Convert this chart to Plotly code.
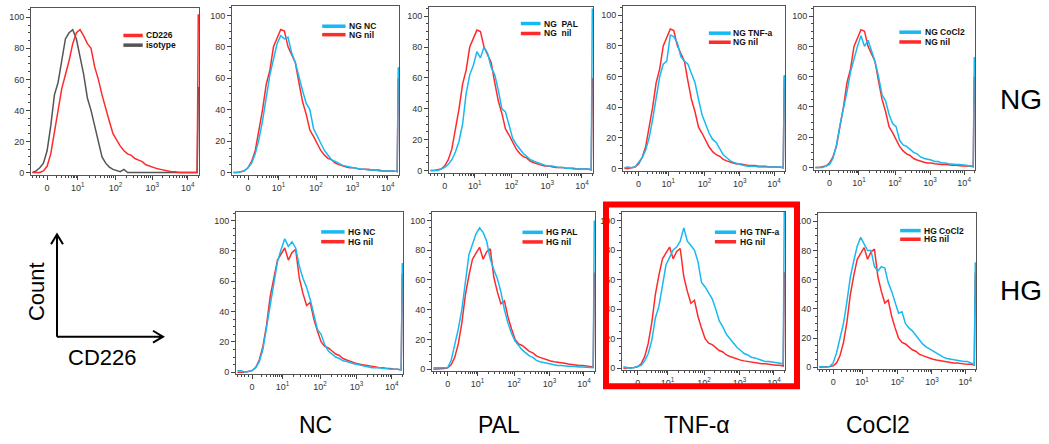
import math
import plotly.graph_objects as go

W, H = 1049, 444

# ---------------- data (display units of the biexponential CD226 axis) ----------------
U = [-0.4, -0.3, -0.2, -0.1, 0.0, 0.1, 0.2, 0.3, 0.4, 0.5,
     0.6, 0.7, 0.8, 0.9, 1.0, 1.1, 1.2, 1.3, 1.4, 1.5,
     1.6, 1.7, 1.8, 1.9, 2.0, 2.1, 2.2, 2.3, 2.4, 2.5,
     2.6, 2.7, 2.8, 2.9, 3.0, 3.1, 3.2, 3.3, 3.4, 3.5,
     3.6, 3.7, 3.8, 3.9, 4.0, 4.1, 4.13]

TICK_POS = [0, 0.84, 1.87, 2.87, 3.84]
TICK_TEXT = ["0", "10<sup>1</sup>", "10<sup>2</sup>", "10<sup>3</sup>", "10<sup>4</sup>"]
Y_TICKS = [0, 20, 40, 60, 80, 100]

CD226 = [0, 0, 0, 1, 4, 12, 27, 41, 54, 63,
         72, 83, 90, 92, 88, 83, 80, 68, 60, 50,
         41, 33, 25, 21, 17, 14, 12, 11, 9, 8,
         7, 5, 4, 3, 2.5, 2, 1.5, 1, 0.5, 0.5,
         0, 0, 0, 0, 0, 0, 102]
ISOTYPE = [0, 1, 3, 6, 14, 30, 50, 58, 72, 86,
           90, 92, 86, 75, 63, 48, 40, 30, 20, 10,
           6, 3.5, 2, 1, 0.5, 2, 0, 0, 0, 0,
           0, 0, 0, 0, 0, 0, 0, 0, 0, 0,
           0, 0, 0, 0, 0, 0, 55]

NG_NIL = [0, 0, 0.5, 1, 3, 7, 14, 26, 40, 56,
          65, 80, 85, 91, 90, 80, 75, 70, 57, 45,
          37, 27, 23, 18, 14, 11, 9, 8, 6, 5,
          4, 3.5, 3, 3, 2.5, 2, 2, 2, 1.5, 1.5,
          1.5, 1, 1, 1, 1, 0.5, 60]
NG_NC = [0, 0, 0.5, 1, 3, 6, 12, 21, 33, 48,
         62, 72, 82, 87, 85, 86, 76, 70, 60, 52,
         44, 40, 28, 23, 19, 14, 11, 8, 7, 5.5,
         4.5, 4, 3.5, 3, 2.5, 2, 2, 1.5, 1.5, 1.5,
         1, 1, 1, 1, 1, 0.5, 67]
NG_PAL = [0, 0, 0, 1, 2, 4, 7, 12, 19, 30,
          50, 62, 68, 77, 73, 80, 76, 67, 62, 52,
          40, 38, 30, 21, 17, 14, 11, 9, 7, 6,
          5, 4, 3.5, 3, 3, 2.5, 2, 2, 1.5, 1.5,
          1, 1, 1, 1, 1, 0.5, 105]
NG_TNF = [0.5, 1, 0.5, 1, 4, 7, 12, 20, 32, 45,
          60, 68, 70, 87, 86, 82, 73, 70, 68, 62,
          56, 45, 35, 29, 23, 19, 17, 13, 9, 7,
          5, 4, 3, 2.5, 2, 1.5, 1.5, 1.5, 1, 1,
          1, 1, 1, 1, 1, 0.5, 61]
NG_COCL2 = [0, 0, 0, 1, 2, 6, 15, 28, 38, 50,
            63, 72, 80, 87, 80, 84, 77, 70, 60, 48,
            44, 35, 29, 27, 18, 15, 14, 12, 10, 9,
            7, 6, 5.5, 5, 4, 4, 3, 3, 2.5, 2,
            2, 2, 1.5, 1.5, 1, 1, 73]

HG_NIL = [0, 0, 0, 0.5, 1, 3, 8, 17, 31, 50,
          63, 74, 78, 82, 74, 79, 81, 62, 52, 44,
          46, 35, 27, 20, 17, 16, 14, 12, 11, 9,
          8, 7, 6, 5.5, 5, 4.5, 4, 4, 3.5, 3,
          3, 2.5, 2.5, 2, 2, 1.5, 65]
HG_NC = [1, 1, 0, 0.5, 1, 3, 7, 15, 29, 45,
         59, 73, 81, 88, 83, 86, 82, 70, 62, 56,
         48, 37, 28, 25, 18, 14, 12, 10, 9, 7.5,
         7, 6, 5.5, 5, 4.5, 4, 3.5, 3, 3, 3,
         2.5, 2.5, 2, 2, 2, 1.5, 72]
HG_PAL = [1, 1, 0.5, 0.5, 1, 6, 16, 27, 40, 58,
          77, 84, 91, 95, 92, 86, 74, 67, 61, 52,
          40, 31, 24, 19, 16, 13, 11, 9, 8, 6,
          5, 4.5, 4, 3.5, 3, 2.5, 2.5, 2, 2, 2,
          1.5, 1.5, 1.5, 1.5, 1, 1, 100]
HG_TNF = [1, 0.5, 0, 0.5, 1, 2, 5, 10, 19, 34,
          42, 57, 70, 75, 80, 82, 86, 95, 86, 83,
          80, 72, 58, 55, 51, 47, 40, 32, 28, 23,
          20, 17, 14, 12, 10, 9, 7.5, 7, 6, 5,
          4.5, 4.5, 4, 4, 3.5, 3, 110]
HG_COCL2 = [0.5, 0, 0, 0.5, 3, 10, 20, 30, 45, 62,
            73, 83, 89, 84, 80, 80, 69, 66, 69, 68,
            58, 52, 44, 37, 38, 30, 27, 25, 22, 19,
            16, 14, 12.5, 11, 9.5, 8, 7, 6, 5.5, 5,
            5, 4.5, 4, 4, 3, 2, 72]

COL_LABELS = ["NC", "PAL", "TNF-α", "CoCl2"]
ROW_LABELS = ["NG", "HG"]

# ---------------- styling ----------------
RED = "#ff2a2a"
BLUE = "#16b9f2"
GREY = "#555555"
FONT = "Liberation Sans, Arial, sans-serif"
NARROW = "Liberation Sans Narrow, Arial Narrow, Liberation Sans, Arial, sans-serif"

# panel: (curves [(legend text, values, color)], box px (x0, y0, x1, y1), legend (lx0, lx1, y1, y2, tx))
panels = [
    ([("CD226", CD226, RED), ("isotype", ISOTYPE, GREY)], (31, 8, 199, 176), (0.55, 0.665, 0.835, 0.777, 0.675)),
    ([("NG NC", NG_NC, BLUE), ("NG nil", NG_NIL, RED)], (232, 6, 399, 176), (0.54, 0.68, 0.88, 0.83, 0.69)),
    ([("NG&nbsp; PAL", NG_PAL, BLUE), ("NG&nbsp; nil", NG_NIL, RED)], (429, 7, 593, 174), (0.56, 0.68, 0.90, 0.84, 0.69)),
    ([("NG TNF-a", NG_TNF, BLUE), ("NG nil", NG_NIL, RED)], (623, 6, 785, 172), (0.53, 0.665, 0.835, 0.78, 0.668)),
    ([("NG CoCl2", NG_COCL2, BLUE), ("NG nil", NG_NIL, RED)], (814, 7, 975, 171), (0.53, 0.665, 0.845, 0.785, 0.675)),
    ([("HG NC", HG_NC, BLUE), ("HG nil", HG_NIL, RED)], (236, 213, 403, 377), (0.51, 0.65, 0.875, 0.815, 0.66)),
    ([("HG PAL", HG_PAL, BLUE), ("HG nil", HG_NIL, RED)], (432, 213, 595, 374), (0.555, 0.68, 0.87, 0.81, 0.685)),
    ([("HG TNF-a", HG_TNF, BLUE), ("HG nil", HG_NIL, RED)], (622, 213, 785, 373), (0.57, 0.70, 0.87, 0.81, 0.71)),
    ([("HG CoCl2", HG_COCL2, BLUE), ("HG nil", HG_NIL, RED)], (818, 214, 976, 372), (0.52, 0.65, 0.885, 0.83, 0.66)),
]

# minor tick positions on the biexponential axis
minor_x = [-0.1, -0.2, -0.3, -0.4]
for a, b in zip(TICK_POS[:-1], TICK_POS[1:]):
    for m in range(2, 10):
        minor_x.append(a + math.log10(m) * (b - a))
minor_x.append(TICK_POS[-1] + math.log10(2) * 1.0)

fig = go.Figure()
layout = dict(
    width=W, height=H, margin=dict(l=0, r=0, t=0, b=0),
    paper_bgcolor="white", plot_bgcolor="white", showlegend=False,
    font=dict(family=FONT, color="#333"),
)
shapes = []
annotations = []

for k, (curves, box, leg) in enumerate(panels, start=1):
    sx = "" if k == 1 else str(k)
    x0, y0, x1, y1 = box
    # draw second (reference/red) curve first, then the first one on top
    for name, vals, col in reversed(curves):
        fig.add_trace(go.Scatter(
            x=U, y=vals, mode="lines", name=name,
            line=dict(color=col, width=1.5),
            xaxis="x" + sx, yaxis="y" + sx, hoverinfo="skip",
        ))
    layout["xaxis" + sx] = dict(
        domain=[x0 / W, x1 / W], anchor="y" + sx, range=[-0.44, 4.15],
        tickvals=TICK_POS, ticktext=TICK_TEXT, ticks="outside", ticklen=4,
        tickcolor="#444", tickwidth=1, showline=True, linecolor="#555", linewidth=1,
        mirror=True, showgrid=False, zeroline=False,
        tickfont=dict(size=9, color="#333", family=FONT),
        minor=dict(tickvals=minor_x, ticks="outside", ticklen=2, tickcolor="#444", showgrid=False),
    )
    layout["yaxis" + sx] = dict(
        domain=[1 - y1 / H, 1 - y0 / H], anchor="x" + sx, range=[-1.5, 106],
        tickvals=Y_TICKS, ticks="outside", ticklen=4, tickcolor="#444", tickwidth=1,
        showline=True, linecolor="#555", linewidth=1, mirror=True,
        showgrid=False, zeroline=False,
        tickfont=dict(size=9, color="#333", family=FONT),
        minor=dict(dtick=5, ticks="outside", ticklen=2, tickcolor="#444", showgrid=False),
    )
    lx0, lx1, ly1, ly2, tx = leg
    for (name, vals, col), ly in zip(curves, (ly1, ly2)):
        shapes.append(dict(type="line", xref="x" + sx + " domain", yref="y" + sx + " domain",
                           x0=lx0, x1=lx1, y0=ly, y1=ly, line=dict(color=col, width=3.5)))
        annotations.append(dict(xref="x" + sx + " domain", yref="y" + sx + " domain",
                                x=tx, y=ly, text="<b>" + name + "</b>", showarrow=False,
                                xanchor="left", yanchor="middle",
                                font=dict(size=8.5, color="#111", family=FONT)))

# red highlight box around HG TNF-α
shapes.append(dict(type="rect", xref="paper", yref="paper",
                   x0=606 / W, x1=797 / W, y0=1 - 389 / H, y1=1 - 206 / H,
                   line=dict(color="#ff0000", width=6)))


def P(px, py):
    return f"{px / W:.5f},{1 - py / H:.5f}"


# Count / CD226 axis arrows
shapes.append(dict(type="path", xref="paper", yref="paper",
                   path=f"M{P(57, 339)} L{P(57, 236)} M{P(51, 246)} L{P(57, 236)} L{P(63, 246)}",
                   line=dict(color="black", width=2)))
shapes.append(dict(type="path", xref="paper", yref="paper",
                   path=f"M{P(57, 339)} L{P(163, 339)} M{P(153, 333)} L{P(163, 339)} L{P(153, 345)}",
                   line=dict(color="black", width=2)))

annotations.append(dict(xref="paper", yref="paper", x=36 / W, y=1 - 294 / H, text="Count",
                        xanchor="center", yanchor="middle",
                        textangle=-90, showarrow=False, font=dict(size=22, color="black", family=FONT)))
annotations.append(dict(xref="paper", yref="paper", x=102 / W, y=1 - 360 / H, text="CD226",
                        xanchor="center", yanchor="middle",
                        showarrow=False, font=dict(size=22, color="black", family=FONT)))

for lab, px in zip(COL_LABELS, [315, 499, 697, 878]):
    annotations.append(dict(xref="paper", yref="paper", x=px / W, y=1 - 428 / H, text=lab,
                            xanchor="center", yanchor="middle",
                            showarrow=False, font=dict(size=23, color="black", family=NARROW)))
for lab, py in zip(ROW_LABELS, [100, 292]):
    annotations.append(dict(xref="paper", yref="paper", x=1021 / W, y=1 - py / H, text=lab,
                            xanchor="center", yanchor="middle",
                            showarrow=False, font=dict(size=28, color="black", family=FONT)))

layout["shapes"] = shapes
layout["annotations"] = annotations
fig.update_layout(**layout)

fig.write_html("out.html", config={"displayModeBar": False},
               post_script="document.body.style.margin='0px';")
